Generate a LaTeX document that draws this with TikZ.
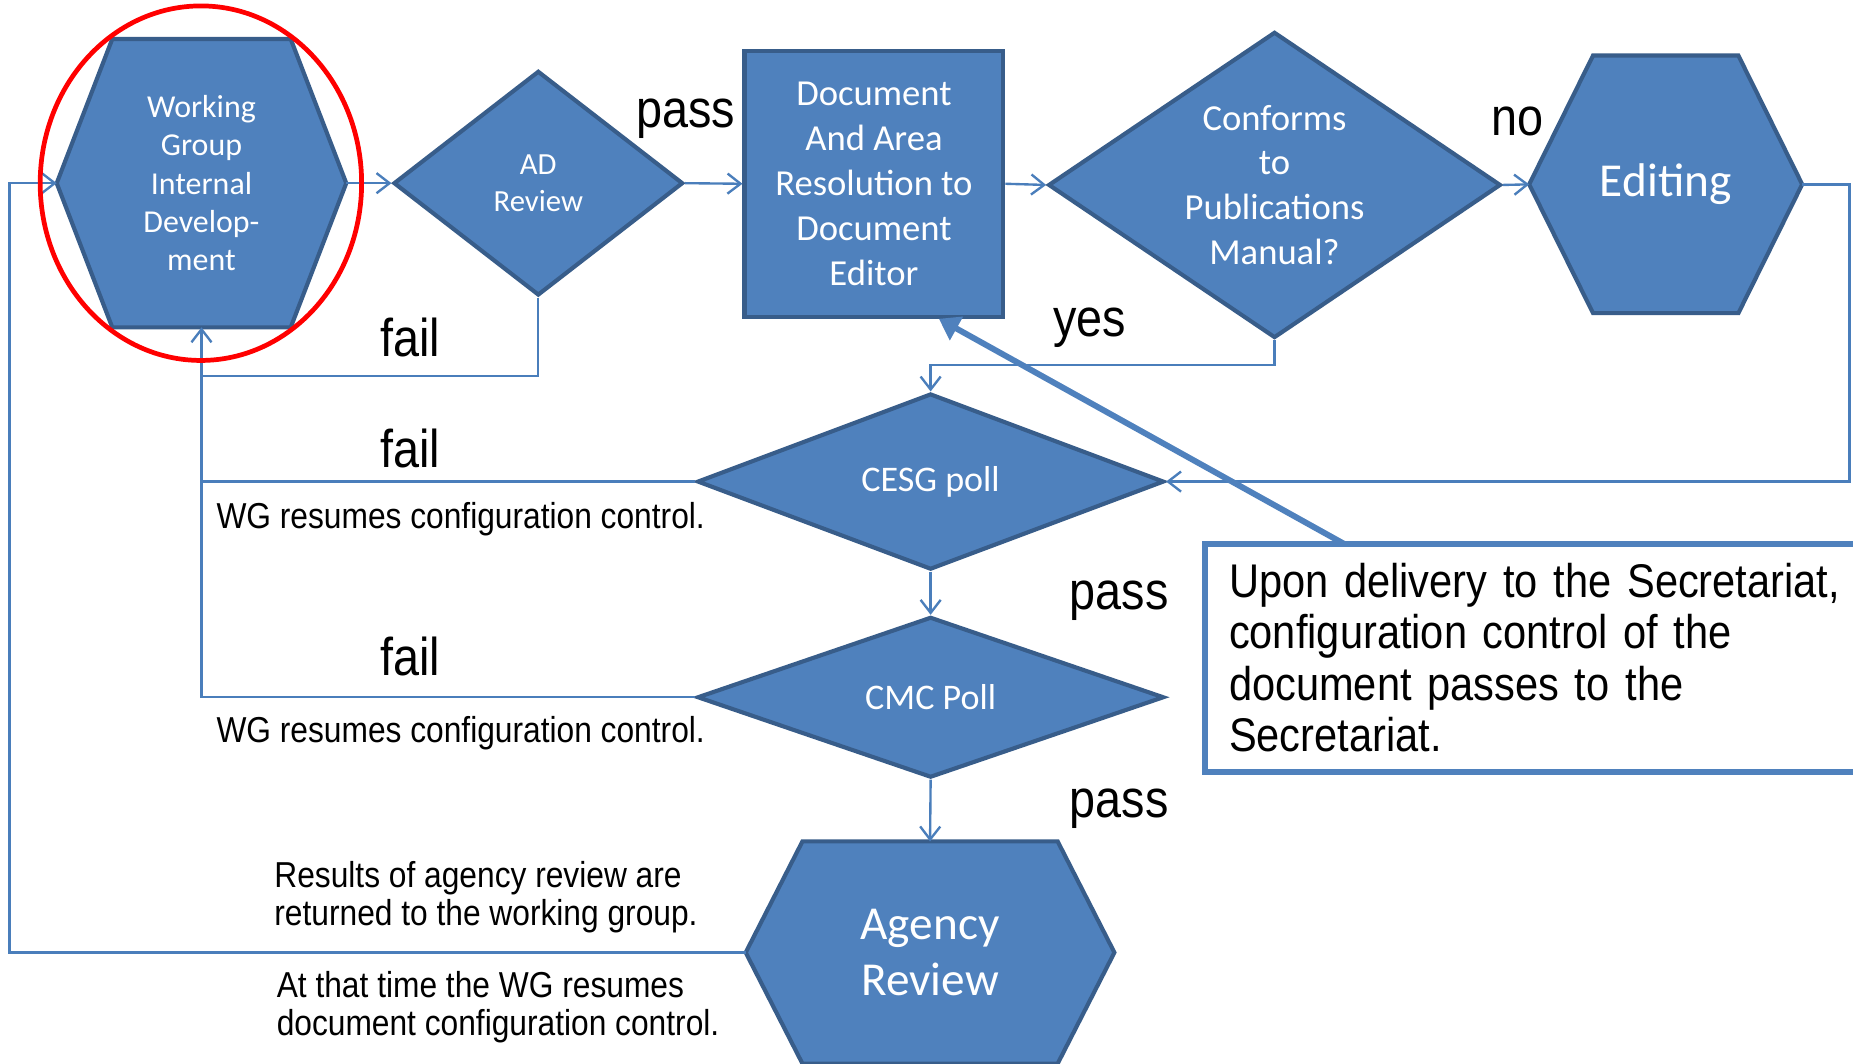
\documentclass[tikz,border=0pt]{standalone}
\usepackage{fontspec}
\setmainfont{Liberation Sans}
\newfontfamily\shapefont{Carlito}
\newfontfamily\labelfont[FakeStretch=0.88]{Liberation Sans}
\usetikzlibrary{arrows.meta,shapes.geometric}
\definecolor{shapefill}{HTML}{4F81BD}
\definecolor{shapeedge}{HTML}{385D8A}
\definecolor{linkblue}{HTML}{4A7EBB}
% hexagon drawn over the bounding rectangle of a named node
\newcommand\hexagonat[2]{%
  \draw[shapebody] (#1.west) -- ([xshift=#2]#1.north west) -- ([xshift=-#2]#1.north east)
    -- (#1.east) -- ([xshift=-#2]#1.south east) -- ([xshift=#2]#1.south west) -- cycle;}
\begin{document}
\begin{tikzpicture}[x=1pt,y=-1pt,
  shapebody/.style={draw=shapeedge, fill=shapefill, line width=3.5pt},
  hexframe/.style={rectangle, inner sep=0pt, outer sep=0pt},
  decision/.style={diamond, shapebody, inner sep=0pt},
  shapetext/.style={text=white, align=center, inner sep=0pt},
  link/.style={draw=linkblue, line width=2pt, -{Straight Barb[length=11pt,width=17pt]}},
  wire/.style={draw=linkblue, line width=2pt},
  pointer/.style={draw=shapefill, line width=5pt, -{Triangle[length=17pt,width=22pt]}},
  lab/.style={font=\labelfont\fontsize{45}{54}\selectfont, inner sep=0pt, anchor=base},
  remark/.style={font=\labelfont\fontsize{30.5}{32}\selectfont, inner sep=0pt, align=left, anchor=west},
  notebox/.style={draw=shapefill, line width=5pt, anchor=north west, outer sep=0pt,
    minimum width=620pt, minimum height=193pt, text width=580pt, inner xsep=16pt,
    align=left, font=\labelfont\fontsize{40}{43.5}\selectfont}]
\clip (0,0) rectangle (1568,900);
\fill[white] (0,0) rectangle (1568,900);

% --- process shapes ---
\node[hexframe, minimum width=245pt, minimum height=244pt] (wg) at (170.5,155) {};
\hexagonat{wg}{47pt}
\node[shapetext, font=\shapefont\fontsize{27}{32.5}\selectfont] (wg-t) at (wg)
  {Working\\Group\\Internal\\Develop-\\ment};

\node[decision, minimum width=245pt, minimum height=190pt] (ad) at (455.5,155) {};
\node[shapetext, font=\shapefont\fontsize{26}{32}\selectfont] (ad-t) at (ad) {AD\\Review};

\node[shapebody, shapetext, minimum width=219pt, minimum height=225pt,
  font=\shapefont\fontsize{31}{38}\selectfont] (doc) at (739.5,155.5)
  {Document\\And Area\\Resolution to\\Document\\Editor};

\node[decision, minimum width=383pt, minimum height=259pt] (conf) at (1078.5,156.5) {};
\node[shapetext, font=\shapefont\fontsize{31}{38}\selectfont] (conf-t) at (conf)
  {Conforms\\to\\Publications\\Manual?};

\node[hexframe, minimum width=231pt, minimum height=218pt] (edit) at (1409.5,156) {};
\hexagonat{edit}{54pt}
\node[shapetext, font=\shapefont\fontsize{40}{48}\selectfont] (edit-t) at (edit) {Editing};

\node[decision, minimum width=395pt, minimum height=149pt] (cesg) at (787.5,407.5) {};
\node[shapetext, font=\shapefont\fontsize{30.5}{36}\selectfont] (cesg-t) at (cesg) {CESG poll};

\node[decision, minimum width=395pt, minimum height=136pt] (cmc) at (787.5,590) {};
\node[shapetext, font=\shapefont\fontsize{30.5}{36}\selectfont] (cmc-t) at (cmc) {CMC Poll};

\node[hexframe, minimum width=312pt, minimum height=188pt] (agency) at (787,806) {};
\hexagonat{agency}{48pt}
\node[shapetext, font=\shapefont\fontsize{40}{48}\selectfont] (agency-t) at (agency)
  {Agency\\Review};

% --- connectors ---
\coordinate (lx) at (8,0);
\coordinate (rx) at (1565,0);
\coordinate (yesy) at (0,309);
\coordinate (faily) at (0,318);

\draw[link] (agency.west) -- (agency.west -| lx) -- (wg.west -| lx) -- (wg.west);
\draw[link] (wg.east) -- (ad.west);
\draw[link] (ad.east) -- (doc.west);
\draw[link] (doc.east) -- (conf.west);
\draw[link] (conf.east) -- (edit.west);
\draw[link] (edit.east) -- (edit.east -| rx) -- (cesg.east -| rx) -- (cesg.east);
\draw[link] (conf.south) -- (conf.south |- yesy) -- (cesg.north |- yesy) -- (cesg.north);
\draw[link] (ad.south) -- (ad.south |- faily) -- (wg.south |- faily) -- (wg.south);
\draw[wire] (cesg.west) -- (cesg.west -| wg.south);
\draw[wire] (cmc.west) -- (cmc.west -| wg.south) -- (wg.south |- faily);
\draw[link] (cesg.south) -- (cmc.north);
\draw[link] (cmc.south) -- (agency.north);

% --- branch labels ---
\node[lab] (pass-ad) at (580,108) {pass};
\node[lab] (no-conf) at (1284,115) {no};
\node[lab] (yes-conf) at (922,285) {yes};
\node[lab] (fail-ad) at (347,302) {fail};
\node[lab] (fail-cesg) at (347,396) {fail};
\node[lab] (fail-cmc) at (347,572) {fail};
\node[lab] (pass-cesg) at (947,516) {pass};
\node[lab] (pass-cmc) at (947,692) {pass};

\node[remark] (note-cesg) at (183,439) {WG resumes configuration control.};
\node[remark] (note-cmc) at (183,620) {WG resumes configuration control.};
\node[remark] (note-ret) at (232,759) {Results of agency review are\\returned to the working group.};
\node[remark] (note-ctl) at (234,852) {At that time the WG resumes\\document configuration control.};

% --- callout ---
\node[notebox] (note) at (1020,460)
  {Upon delivery to the Secretariat,\\configuration control of the\\document passes to the\\Secretariat.};
\draw[pointer] ([xshift=117pt]note.north west) -- ([xshift=55pt]doc.south);

% --- highlight ring ---
\node[ellipse, draw=red, line width=4pt, minimum width=272pt, minimum height=300pt,
  inner sep=0pt] (ring) at (170,155) {};
\end{tikzpicture}
\end{document}
